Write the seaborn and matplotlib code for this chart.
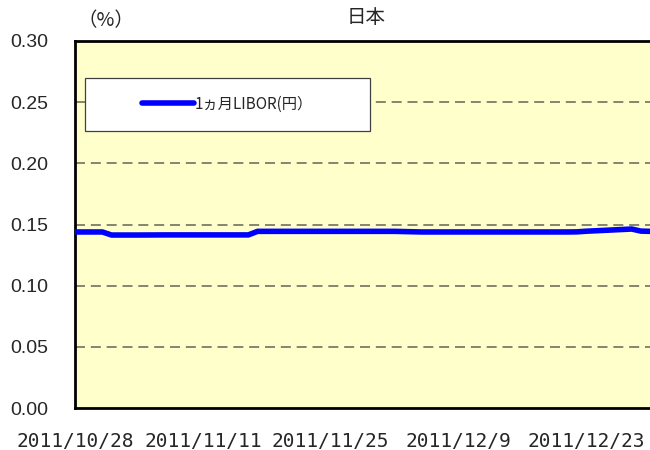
import matplotlib.pyplot as plt
import pandas as pd
import seaborn as sns
from matplotlib.patches import Rectangle

# 1-month JPY LIBOR, business days
dates = pd.to_datetime([
    "2011-10-28", "2011-10-31", "2011-11-01", "2011-11-02", "2011-11-03",
    "2011-11-04", "2011-11-07", "2011-11-08", "2011-11-09", "2011-11-10",
    "2011-11-11", "2011-11-14", "2011-11-15", "2011-11-16", "2011-11-17",
    "2011-11-18", "2011-11-21", "2011-11-22", "2011-11-23", "2011-11-24",
    "2011-11-25", "2011-11-28", "2011-11-29", "2011-11-30", "2011-12-01",
    "2011-12-02", "2011-12-05", "2011-12-06", "2011-12-07", "2011-12-08",
    "2011-12-09", "2011-12-12", "2011-12-13", "2011-12-14", "2011-12-15",
    "2011-12-16", "2011-12-19", "2011-12-20", "2011-12-21", "2011-12-22",
    "2011-12-23", "2011-12-28", "2011-12-29", "2011-12-30",
])
libor_1m = [
    0.1439, 0.1439, 0.1414, 0.1414, 0.1414,
    0.1414, 0.1415, 0.1415, 0.1415, 0.1415,
    0.1415, 0.1415, 0.1415, 0.1415, 0.1444,
    0.1444, 0.1444, 0.1444, 0.1444, 0.1444,
    0.1444, 0.1444, 0.1444, 0.1444, 0.1444,
    0.1444, 0.1439, 0.1439, 0.1439, 0.1439,
    0.1439, 0.1439, 0.1439, 0.1439, 0.1439,
    0.1439, 0.1439, 0.1439, 0.1439, 0.1440,
    0.1445, 0.1463, 0.1446, 0.1444,
]
series_name = "1ヵ月LIBOR(円）"
tick_dates = pd.to_datetime(["2011-10-28", "2011-11-11", "2011-11-25", "2011-12-09", "2011-12-23"])
tick_labels = ["2011/10/28", "2011/11/11", "2011/11/25", "2011/12/9", "2011/12/23"]
y_ticks = [0, 0.05, 0.10, 0.15, 0.20, 0.25, 0.30]

df = pd.DataFrame({"date": dates, "value": libor_1m, "series": series_name})

sns.set_style("white")
plt.rcParams["font.family"] = ["Liberation Sans", "Noto Sans CJK JP"]

fig = plt.figure(figsize=(6.5, 4.5), dpi=100)
ax = fig.add_axes([0.1154, 0.0933, 0.8846, 0.8156])
ax.set_facecolor("#FFFFCC")

sns.lineplot(data=df, x="date", y="value", hue="series", palette=["#0000FF"],
             linewidth=4, ax=ax, zorder=3)

ax.set_xlim(pd.Timestamp("2011-10-28"), pd.Timestamp("2011-12-30"))
ax.set_ylim(0, 0.30)
ax.set_yticks(y_ticks)
ax.set_yticklabels([f"{v:.2f}" for v in y_ticks], fontsize=14)
ax.set_xticks(tick_dates)
ax.set_xticklabels(tick_labels, fontsize=14, family=["DejaVu Sans Mono"])
ax.tick_params(axis="both", direction="in", length=5, width=1.5, color="black")
ax.tick_params(axis="x", pad=17)
ax.tick_params(axis="y", pad=19)
ax.set_xlabel("")
ax.set_ylabel("")

for y in y_ticks[1:-1]:
    ax.axhline(y, color="#707060", linestyle=(0, (6, 3.5)), linewidth=1.2, zorder=1)

for side in ["left", "bottom", "top"]:
    ax.spines[side].set_color("black")
    ax.spines[side].set_linewidth(2)
ax.spines["right"].set_visible(False)

# legend box
ax.add_patch(Rectangle((0.0174, 0.755), 0.496, 0.145, transform=ax.transAxes,
                       facecolor="white", edgecolor="#404040", linewidth=0.9, zorder=4))
leg = ax.legend(loc="center", bbox_to_anchor=(0.265, 0.8275), fontsize=11,
                frameon=False, handlelength=3.4, handletextpad=0.05,
                borderaxespad=0)
leg.set_zorder(5)
for t in leg.get_texts():
    t.set_family(["Noto Sans CJK JP"])

fig.text(0.163, 0.955, "（%）", fontsize=14, ha="center", va="center",
         family=["Noto Sans CJK JP"])
fig.text(0.563, 0.962, "日本", fontsize=14, ha="center", va="center",
         family=["Noto Sans CJK JP"])

fig.savefig("out.png", dpi=100)
